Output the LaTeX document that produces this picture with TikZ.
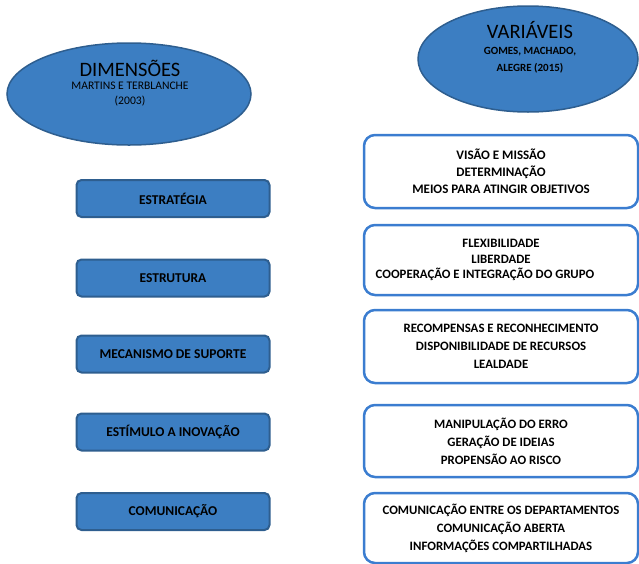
\documentclass[tikz,border=0pt]{standalone}
\usepackage{fontspec}
\setmainfont{Carlito}
\usetikzlibrary{shapes}

\definecolor{fillblue}{RGB}{60,126,194}
\definecolor{edgeblue}{RGB}{46,94,143}
\definecolor{lineblue}{RGB}{59,125,208}

\tikzset{
  elipse/.style={ellipse, draw=edgeblue, fill=fillblue, line width=1.5pt},
  titulo/.style={align=center, font=\fontsize{20.5}{22}\selectfont},
  dimbox/.style={rectangle, rounded corners=5pt, draw=edgeblue, fill=fillblue, line width=2pt,
    minimum width=193pt, minimum height=37pt, font=\bfseries\fontsize{13.5}{15}\selectfont},
  varbox/.style={rectangle, rounded corners=11pt, draw=lineblue, fill=white, line width=2.5pt,
    minimum width=274pt, align=center, font=\bfseries\fontsize{12.8}{18}\selectfont}
}

\begin{document}
\begin{tikzpicture}[x=1pt,y=-1pt]
\useasboundingbox (0,0) rectangle (639,563);
\node[elipse,minimum width=244pt,minimum height=102pt] (dimensoes) at (129,94) {};
\node[elipse,minimum width=220pt,minimum height=106pt] (variaveis) at (528,59) {};
\node[titulo] (dimtitulo) at (130,68) {DIMENSÕES};
\node[align=center,font=\fontsize{11.6}{15}\selectfont] (dimautor) at (130,94.5) {MARTINS E TERBLANCHE\\(2003)};
\node[titulo] (vartitulo) at (530,30) {VARIÁVEIS};
\node[align=center,font=\bfseries\fontsize{11}{17}\selectfont] (varautor) at (530,60) {GOMES, MACHADO,\\ALEGRE (2015)};
\node[dimbox] (estrategia) at (173,198.5) {ESTRATÉGIA};
\node[dimbox] (estrutura) at (173,278) {ESTRUTURA};
\node[dimbox] (mecanismo) at (173,354) {MECANISMO DE SUPORTE};
\node[dimbox] (estimulo) at (173,432) {ESTÍMULO A INOVAÇÃO};
\node[dimbox] (comunicacao) at (173,511.5) {COMUNICAÇÃO};
\node[varbox,minimum height=73pt,font=\bfseries\fontsize{13}{17}\selectfont] (visao) at (501,171.5) {VISÃO E MISSÃO\\DETERMINAÇÃO\\MEIOS PARA ATINGIR OBJETIVOS};
\node[varbox,minimum height=70pt,font=\bfseries\fontsize{12.8}{15.5}\selectfont] (flexibilidade) at (501,260) {FLEXIBILIDADE\\LIBERDADE\\COOPERAÇÃO E INTEGRAÇÃO DO GRUPO\hspace*{32pt}};
\node[varbox,minimum height=73pt] (recompensas) at (501,346.5) {RECOMPENSAS E RECONHECIMENTO\\DISPONIBILIDADE DE RECURSOS\\LEALDADE};
\node[varbox,minimum height=72pt] (erro) at (501,441) {MANIPULAÇÃO DO ERRO\\GERAÇÃO DE IDEIAS\\PROPENSÃO AO RISCO};
\node[varbox,minimum height=70pt] (departamentos) at (501,528) {COMUNICAÇÃO ENTRE OS DEPARTAMENTOS\\COMUNICAÇÃO ABERTA\\INFORMAÇÕES COMPARTILHADAS};
\end{tikzpicture}
\end{document}
